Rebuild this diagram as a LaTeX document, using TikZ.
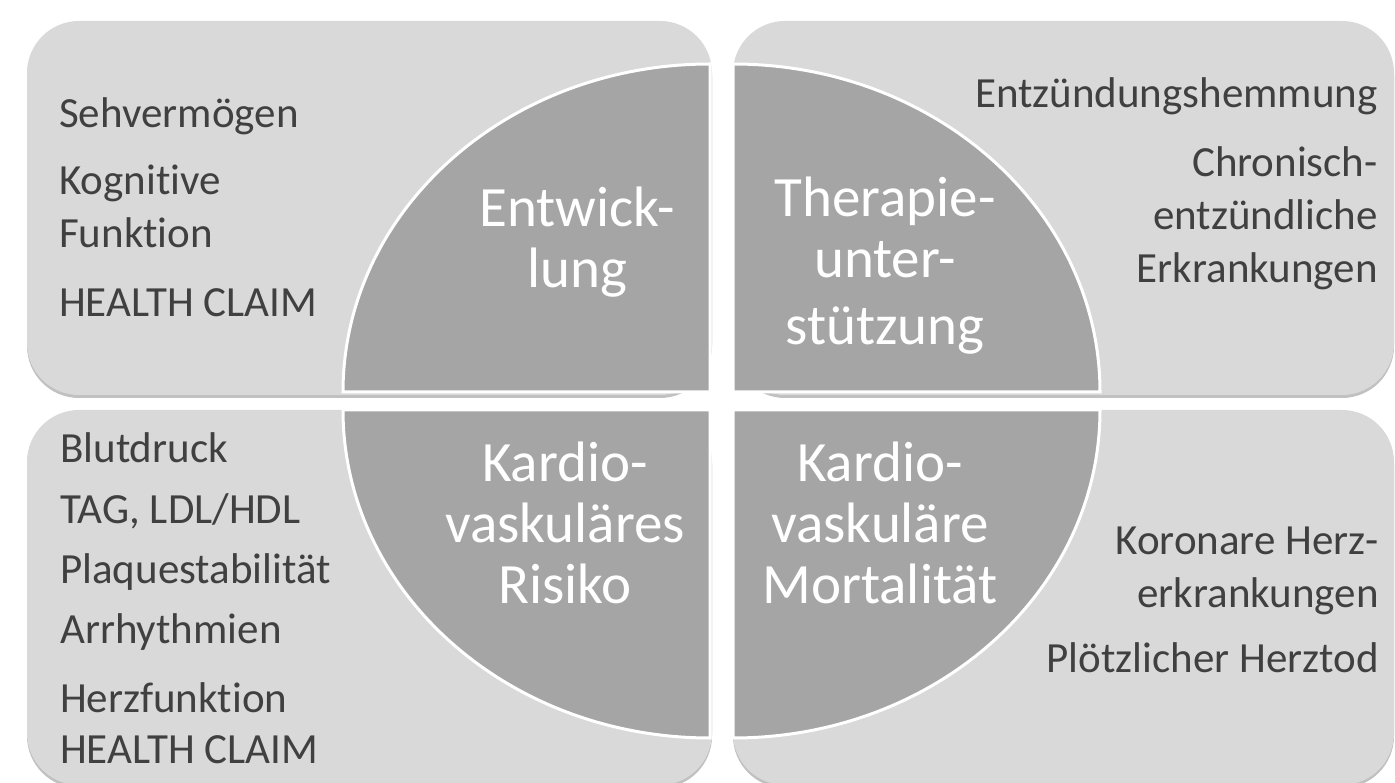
\documentclass[tikz,border=0pt]{standalone}
\usepackage{fontspec}
\setmainfont{Carlito}[Ligatures=NoCommon]
\usepackage{tikz}
\usetikzlibrary{shadows}
\definecolor{PanelGray}{RGB}{217,217,217}
\definecolor{QuadGray}{RGB}{165,165,165}
\definecolor{ItemText}{RGB}{64,64,64}

\begin{document}
\begin{tikzpicture}[x=1pt,y=1pt,
  panel/.style={fill=PanelGray,rounded corners=52pt,drop shadow={shadow xshift=0pt,shadow yshift=-3pt,opacity=0.35,fill=black!70}},
  quad/.style={fill=QuadGray,draw=white,line width=3pt},
  item/.style={text=ItemText,font=\fontsize{43}{53}\selectfont,inner sep=0pt},
  qtext/.style={text=white,font=\fontsize{57}{61}\selectfont,align=center,inner sep=0pt}]
\useasboundingbox (0,0) rectangle (1395,782);
% the four panels
\path[panel] (27,387) rectangle (712,761);
\path[panel] (733,387) rectangle (1394,761);
\path[panel] (27,-3) rectangle (712,372);
\path[panel] (733,-3) rectangle (1394,372);
% quarter ellipses, pulled apart at the centre
\foreach \cx/\cy/\a in {710/390/90,733/390/0,710/372/180,733/372/270} {
   \path[quad] (\cx,\cy) -- ++(\a:367 and 328)
      arc[start angle=\a,delta angle=90,x radius=367,y radius=328] -- cycle;
}
% quadrant titles (base = last line)
\node[qtext,anchor=base] (entw) at (577,494) {Entwick-\\lung};
\node[qtext,anchor=base] (ther) at (885,437) {Therapie-\\unter-\\[6pt]stützung};
\node[qtext,anchor=base] (risk) at (565,178) {Kardio-\\vaskuläres\\Risiko};
\node[qtext,anchor=base] (mort) at (880,178) {Kardio-\\vaskuläre\\Mortalität};
% outer lists
\node[item,align=left,anchor=base west] (tl) at (59,465)
   {Sehvermögen\\[14pt]Kognitive\\Funktion\\[16pt]HEALTH CLAIM};
\node[item,align=right,anchor=base east] (tr) at (1378,499)
   {Entzündungshemmung\\[16pt]Chronisch-\\entzündliche\\Erkrankungen};
\node[item,align=left,anchor=base west] (bl) at (60,19)
   {Blutdruck\\[8pt]TAG, LDL/HDL\\[7pt]Plaquestabilität\\[7pt]Arrhythmien\\[16pt]Herzfunktion\\[-2pt]HEALTH CLAIM};
\node[item,align=right,anchor=base east] (br) at (1379,109)
   {Koronare Herz-\\erkrankungen\\[13pt]Plötzlicher Herztod};
\end{tikzpicture}
\end{document}
